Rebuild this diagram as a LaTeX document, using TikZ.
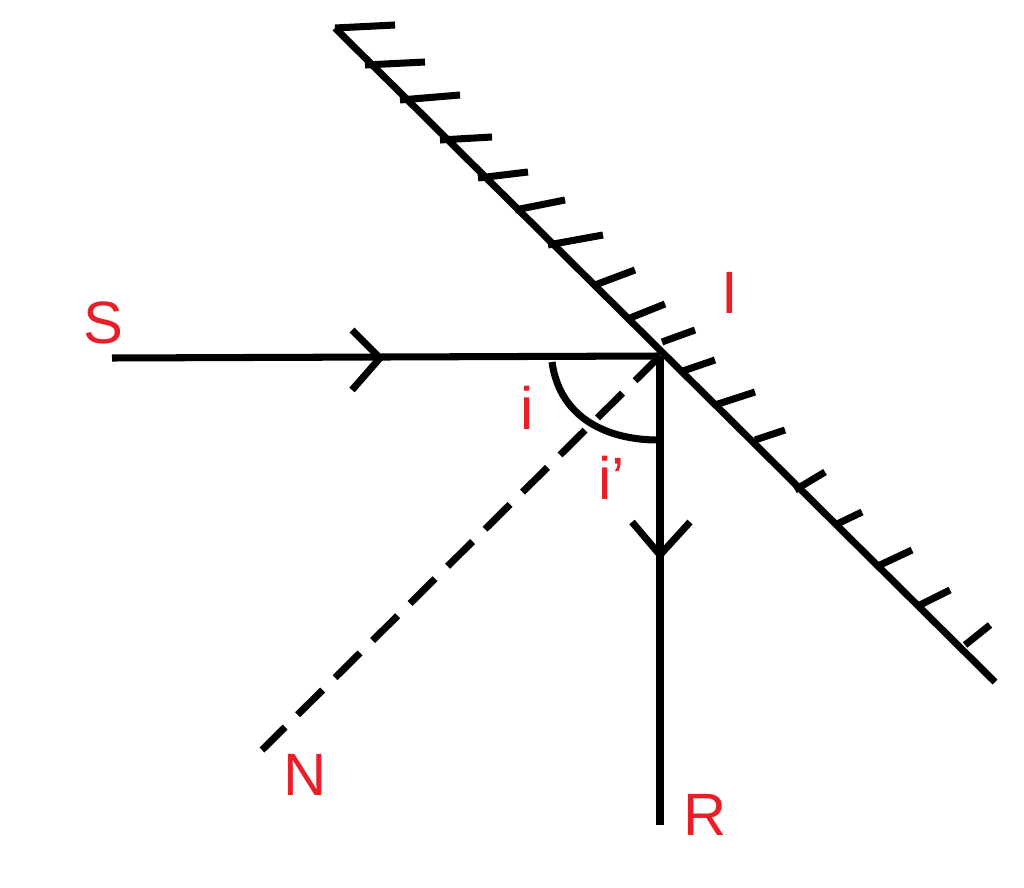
\documentclass[tikz,border=0pt]{standalone}
\usepackage{fontspec}
\setmainfont{Liberation Sans}
\definecolor{lbl}{RGB}{232,30,40}
\begin{document}
\begin{tikzpicture}[x=0.01cm,y=-0.01cm,line width=2pt,
  lab/.style={text=lbl,font=\fontsize{17}{17}\selectfont,inner sep=0pt}]
\useasboundingbox (0,0) rectangle (1024,888);
\coordinate (M1) at (335,28);
\coordinate (M2) at (995,682);
\coordinate (I) at (660,356);
\coordinate (S0) at (112,358);
\coordinate (R0) at (660,825);
\coordinate (N0) at (262,750);
\draw (M1) -- (M2);
\foreach \x/\y/\dx/\dy in {335/28/60/-3,365/65/60/-3,400/100/60/-5,440/140/52/-3,478/178/50/-6,515/210/50/-10,548/245/55/-10,595/285/40/-15,630/318/35/-14,662/342/33/-12,680/372/35/-12,715/405/40/-13,755/440/30/-10,795/490/30/-18,835/525/27/-13,880/565/32/-15,920/605/30/-15,965/645/25/-20}
  \draw (\x,\y) -- ++(\dx,\dy);
\draw (S0) -- (I);
\draw (352,330) -- (380,358) -- (352,390);
\draw (I) -- (R0);
\draw (632,522) -- (660,555) -- (690,522);
\draw[dash pattern=on 10pt off 5pt] (I) -- (N0);
\draw (552,362) .. controls (560,420) and (610,440) .. (658,440);
\node[lab] (S) at (103,323) {S};
\node[lab] (Il) at (730,293) {I};
\node[lab] (i) at (527,408) {i};
\node[lab] (ip) at (612,478) {i'};
\node[lab] (N) at (305,775) {N};
\node[lab] (R) at (705,815) {R};
\end{tikzpicture}
\end{document}
